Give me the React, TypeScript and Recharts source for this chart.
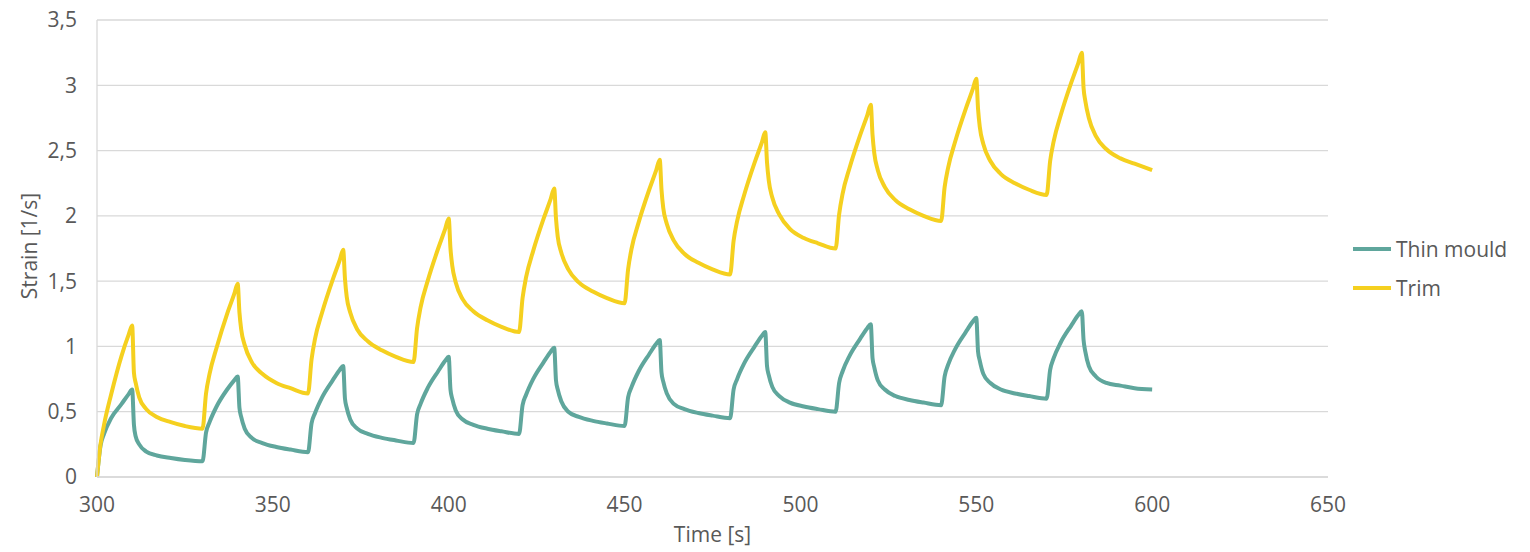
import { LineChart, Line, XAxis, YAxis, CartesianGrid, Legend, Label } from 'recharts';

// sample times [s]: each 30 s cycle is sampled densely around the peak
const time = [
    300, 301, 302, 304, 307, 309, 310, 310.5, 311, 312, 314, 317, 321, 325,
    330, 331, 332, 334, 337, 339, 340, 340.5, 341, 342, 344, 347, 351, 355,
    360, 361, 362, 364, 367, 369, 370, 370.5, 371, 372, 374, 377, 381, 385,
    390, 391, 392, 394, 397, 399, 400, 400.5, 401, 402, 404, 407, 411, 415,
    420, 421, 422, 424, 427, 429, 430, 430.5, 431, 432, 434, 437, 441, 445,
    450, 451, 452, 454, 457, 459, 460, 460.5, 461, 462, 464, 467, 471, 475,
    480, 481, 482, 484, 487, 489, 490, 490.5, 491, 492, 494, 497, 501, 505,
    510, 511, 512, 514, 517, 519, 520, 520.5, 521, 522, 524, 527, 531, 535,
    540, 541, 542, 544, 547, 549, 550, 550.5, 551, 552, 554, 557, 561, 565,
    570, 571, 572, 574, 577, 579, 580, 580.5, 581, 582, 584, 587, 591, 595,
    600,
];

const thinMould = [
    0, 0.24, 0.33, 0.45, 0.56, 0.635, 0.67, 0.4, 0.31, 0.25, 0.195, 0.165, 0.145, 0.13,
    0.12, 0.34, 0.42, 0.54, 0.67, 0.74, 0.77, 0.53, 0.46, 0.37, 0.3, 0.26, 0.23, 0.21,
    0.19, 0.41, 0.49, 0.61, 0.74, 0.82, 0.85, 0.6, 0.53, 0.44, 0.37, 0.33, 0.3, 0.28,
    0.26, 0.48, 0.56, 0.68, 0.81, 0.89, 0.92, 0.67, 0.6, 0.51, 0.44, 0.4, 0.37, 0.35,
    0.33, 0.55, 0.63, 0.75, 0.88, 0.96, 0.99, 0.74, 0.67, 0.58, 0.5, 0.46, 0.43, 0.41,
    0.39, 0.61, 0.69, 0.81, 0.94, 1.02, 1.05, 0.8, 0.73, 0.64, 0.56, 0.52, 0.49, 0.47,
    0.45, 0.67, 0.75, 0.87, 1.0, 1.08, 1.11, 0.85, 0.78, 0.69, 0.62, 0.57, 0.54, 0.52,
    0.5, 0.72, 0.81, 0.93, 1.06, 1.14, 1.17, 0.91, 0.84, 0.74, 0.67, 0.62, 0.59, 0.57,
    0.55, 0.77, 0.86, 0.98, 1.11, 1.19, 1.22, 0.96, 0.89, 0.79, 0.72, 0.67, 0.64, 0.62,
    0.6, 0.82, 0.91, 1.03, 1.16, 1.24, 1.27, 1.05, 0.96, 0.85, 0.77, 0.72, 0.7, 0.68,
    0.67,
];

const trim = [
    0, 0.25, 0.4, 0.63, 0.93, 1.09, 1.16, 0.8, 0.72, 0.61, 0.52, 0.46, 0.42, 0.39,
    0.37, 0.64, 0.79, 0.99, 1.25, 1.4, 1.48, 1.26, 1.13, 1.01, 0.88, 0.79, 0.72, 0.68,
    0.64, 0.9, 1.06, 1.26, 1.51, 1.66, 1.74, 1.52, 1.38, 1.26, 1.13, 1.04, 0.97, 0.92,
    0.88, 1.14, 1.3, 1.5, 1.75, 1.9, 1.98, 1.75, 1.62, 1.49, 1.36, 1.27, 1.2, 1.15,
    1.11, 1.37, 1.53, 1.73, 1.98, 2.13, 2.21, 1.98, 1.84, 1.72, 1.59, 1.49, 1.42, 1.37,
    1.33, 1.59, 1.75, 1.95, 2.2, 2.35, 2.43, 2.2, 2.06, 1.94, 1.81, 1.71, 1.64, 1.59,
    1.55, 1.81, 1.96, 2.16, 2.41, 2.56, 2.64, 2.41, 2.27, 2.14, 2.01, 1.9, 1.83, 1.79,
    1.75, 2.01, 2.17, 2.37, 2.62, 2.77, 2.85, 2.62, 2.48, 2.35, 2.22, 2.12, 2.05, 2.0,
    1.96, 2.22, 2.37, 2.57, 2.82, 2.97, 3.05, 2.82, 2.68, 2.55, 2.42, 2.32, 2.25, 2.2,
    2.16, 2.42, 2.57, 2.77, 3.02, 3.17, 3.25, 2.98, 2.88, 2.75, 2.61, 2.51, 2.44, 2.4,
    2.35,
];

const xTicks = [300, 350, 400, 450, 500, 550, 600, 650];
const yTicks = [0, 0.5, 1, 1.5, 2, 2.5, 3, 3.5];

const TEAL = '#5fa69c';
const GOLD = '#f5d01f';
const GRID = '#d9d9d9';
const TEXT = '#595959';
const FONT = '"Open Sans", "Liberation Sans", sans-serif';

const chartData = time.map((t, i) => ({ time: t, thin: thinMould[i], trim: trim[i] }));

const commaFormat = (v: number) => String(v).replace('.', ',');

function LegendBox() {
    const items = [
        { name: 'Thin mould', color: TEAL },
        { name: 'Trim', color: GOLD },
    ];
    return (
        <div style={{ fontFamily: FONT, fontSize: 21, color: TEXT }}>
            {items.map((it) => (
                <div key={it.name} style={{ display: 'flex', alignItems: 'center', height: 39 }}>
                    <span style={{ display: 'inline-block', width: 38, height: 4, background: it.color, marginRight: 5 }} />
                    <span>{it.name}</span>
                </div>
            ))}
        </div>
    );
}

export default function App() {
    return (
        <div style={{ position: 'absolute', left: 0, top: 0, width: 1530, height: 552, background: '#fff' }}>
            <LineChart
                width={1530}
                height={552}
                data={chartData}
                margin={{ top: 20, right: 202, left: 0, bottom: 0 }}
                style={{ fontFamily: FONT }}
            >
                <CartesianGrid vertical={false} stroke={GRID} strokeWidth={1.3} />
                <XAxis
                    type="number"
                    dataKey="time"
                    domain={[300, 650]}
                    ticks={xTicks}
                    interval={0}
                    height={75}
                    tickSize={0}
                    tickMargin={20}
                    tickLine={false}
                    axisLine={{ stroke: GRID, strokeWidth: 1.3 }}
                    tick={{ fill: TEXT, fontSize: 21 }}
                >
                    <Label value="Time [s]" position="insideBottom" offset={10} fill={TEXT} fontSize={21} />
                </XAxis>
                <YAxis
                    type="number"
                    domain={[0, 3.5]}
                    ticks={yTicks}
                    interval={0}
                    width={97}
                    tickSize={0}
                    tickMargin={20}
                    tickLine={false}
                    tickFormatter={commaFormat}
                    axisLine={{ stroke: GRID, strokeWidth: 1.3 }}
                    tick={{ fill: TEXT, fontSize: 21 }}
                >
                    <Label
                        content={() => (
                            <text
                                x={37}
                                y={246}
                                transform="rotate(-90 37 246)"
                                textAnchor="middle"
                                fill={TEXT}
                                fontSize={21}
                            >
                                Strain [1/s]
                            </text>
                        )}
                    />
                </YAxis>
                <Legend
                    layout="vertical"
                    align="center"
                    verticalAlign="middle"
                    wrapperStyle={{ left: 1353, top: 229, width: 177 }}
                    content={() => <LegendBox />}
                />
                <Line
                    type="monotoneX"
                    dataKey="thin"
                    name="Thin mould"
                    stroke={TEAL}
                    strokeWidth={4}
                    strokeLinejoin="round"
                    dot={false}
                    activeDot={false}
                    isAnimationActive={false}
                />
                <Line
                    type="monotoneX"
                    dataKey="trim"
                    name="Trim"
                    stroke={GOLD}
                    strokeWidth={4}
                    strokeLinejoin="round"
                    dot={false}
                    activeDot={false}
                    isAnimationActive={false}
                />
            </LineChart>
        </div>
    );
}
